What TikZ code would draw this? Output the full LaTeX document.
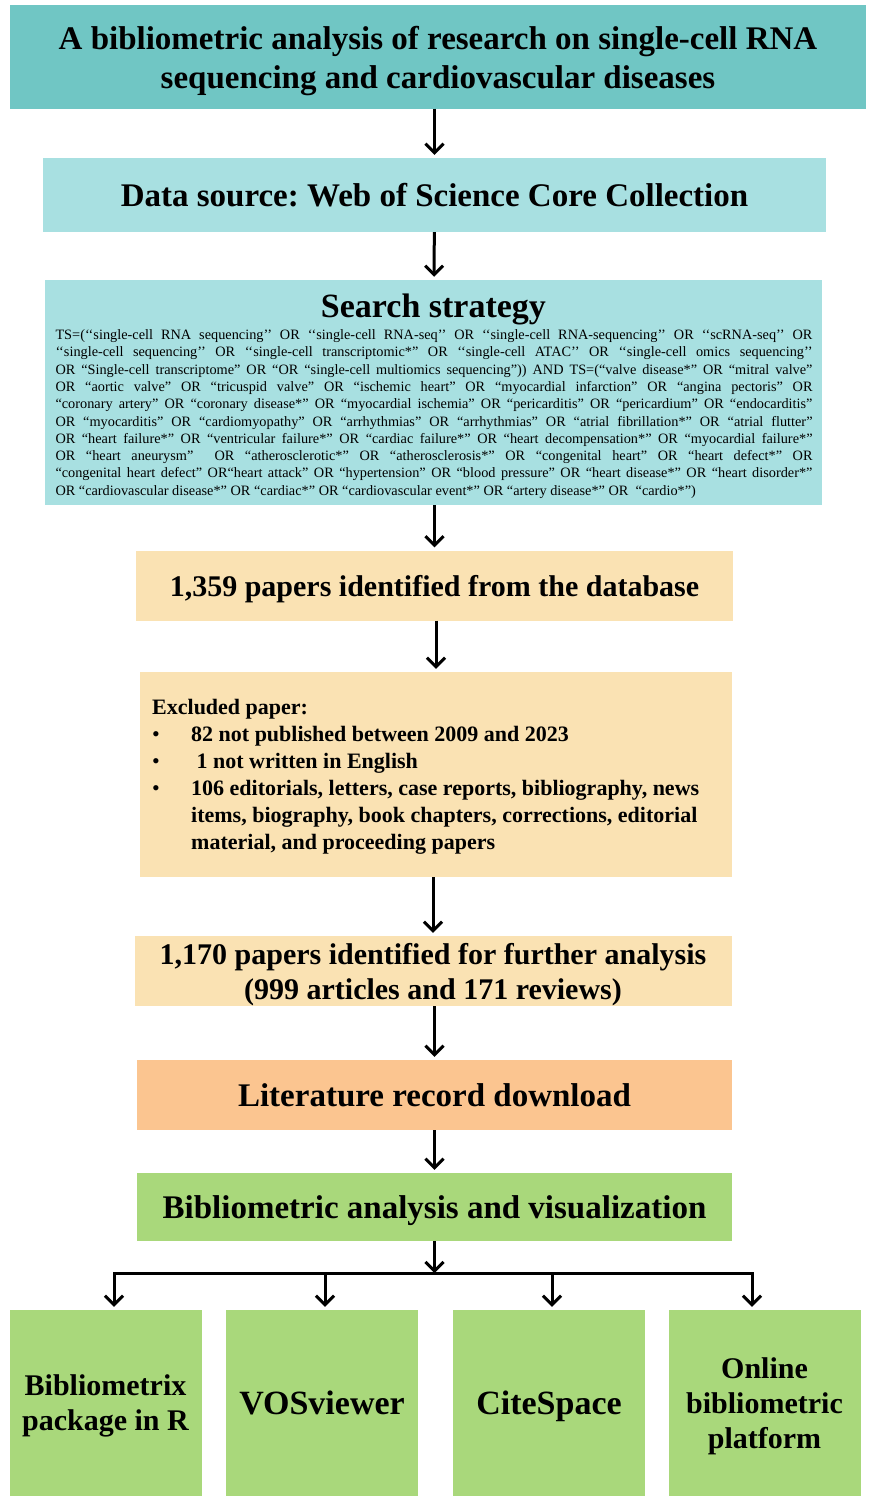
\documentclass[tikz,border=0pt]{standalone}
\usepackage{fontspec}
\setmainfont{Liberation Serif}
\newfontfamily\qryfont{Liberation Serif}
\definecolor{cTeal}{HTML}{70C6C4}
\definecolor{cCyan}{HTML}{A8E0E1}
\definecolor{cPeach}{HTML}{FAE2B3}
\definecolor{cOrange}{HTML}{FBC590}
\definecolor{cGreen}{HTML}{A9D87B}
\usetikzlibrary{arrows.meta}

\newcommand{\bfsize}[2]{\bfseries\fontsize{#1}{#2}\selectfont}
\newcommand{\bul}{\makebox[39pt][l]{\mdseries\textbullet}}
\frenchspacing

\begin{document}
\begin{tikzpicture}[x=1pt, y=-1pt,
  bx/.style={inner sep=0pt, align=center, text depth=0pt, font=\bfsize{33}{39}},
  hd/.style={bx, fill=cTeal, minimum width=856pt, minimum height=103pt},
  src/.style={bx, fill=cCyan, minimum width=783pt, minimum height=74pt},
  srch/.style={bx, fill=cCyan, minimum width=777pt, minimum height=225pt},
  pap/.style={bx, fill=cPeach, minimum width=597pt, minimum height=70pt,
              font=\bfsize{30}{35}},
  excl/.style={bx, fill=cPeach, minimum width=592pt, minimum height=205pt},
  exclT/.style={inner sep=0pt, anchor=west, align=left, font=\bfsize{22}{27}},
  dl/.style={bx, fill=cOrange, minimum width=595pt, minimum height=70pt},
  ana/.style={bx, fill=cGreen, minimum width=595pt, minimum height=68pt},
  tool/.style={bx, fill=cGreen, minimum width=192pt, minimum height=186pt,
               font=\bfsize{30}{35}},
  qry/.style={inner sep=0pt, text width=757pt, align=justify,
              font=\qryfont\fontsize{14.3}{17.3}\selectfont},
  arr/.style={-{Straight Barb[length=9pt,width=18pt]}, line width=3pt,
              shorten >=3pt}]
  \useasboundingbox (0,0) rectangle (874,1496);

  \node[hd] (head) at (438,57)
     {A bibliometric analysis of research on single-cell RNA\\
      sequencing and cardiovascular diseases};
  \node[src] (dsrc) at (434.5,195) {Data source: Web of Science Core Collection};
  \node[srch] (srch) at (433.5,392.5) {};
  \node[font=\bfsize{34}{38}, text depth=0pt] (srchT) at (433.5,306) {Search strategy};
  \node[qry] (qryT) at (434,414) {%
TS=(‘‘single-cell RNA sequencing’’ OR ‘‘single-cell RNA-seq’’ OR ‘‘single-cell RNA-sequencing’’ OR ‘‘scRNA-seq’’ OR\linebreak
‘‘single-cell sequencing’’ OR ‘‘single-cell transcriptomic*” OR ‘‘single-cell ATAC’’ OR ‘‘single-cell omics sequencing’’\linebreak
OR “Single-cell transcriptome” OR “OR “single-cell multiomics sequencing”)) AND TS=(“valve disease*” OR “mitral valve”\linebreak
OR “aortic valve” OR “tricuspid valve” OR “ischemic heart” OR “myocardial infarction” OR “angina pectoris” OR\linebreak
“coronary artery” OR “coronary disease*” OR “myocardial ischemia” OR “pericarditis” OR “pericardium” OR “endocarditis”\linebreak
OR “myocarditis” OR “cardiomyopathy” OR “arrhythmias” OR “arrhythmias” OR “atrial fibrillation*” OR “atrial flutter”\linebreak
OR “heart failure*” OR “ventricular failure*” OR “cardiac failure*” OR “heart decompensation*” OR “myocardial failure*”\linebreak
OR “heart aneurysm”~ OR “atherosclerotic*” OR “atherosclerosis*” OR “congenital heart” OR “heart defect*” OR\linebreak
“congenital heart defect” OR“heart attack” OR “hypertension” OR “blood pressure” OR “heart disease*” OR “heart disorder*”\linebreak
OR “cardiovascular disease*” OR “cardiac*” OR “cardiovascular event*” OR “artery disease*” OR~ “cardio*”)};
  \node[pap] (found) at (434.5,585.5) {1,359 papers identified from the database};
  \node[excl] (excl) at (436,774.5) {};
  \node[exclT] (exclL) at (152,777)
     {Excluded paper:\\
      \bul 82 not published between 2009 and 2023\\
      \bul\ 1 not written in English\\
      \bul 106 editorials, letters, case reports, bibliography, news\\
      \hspace*{39pt}items, biography, book chapters, corrections, editorial\\
      \hspace*{39pt}material, and proceeding papers};
  \node[pap] (kept) at (433,971)
     {1,170 papers identified for further analysis\\(999 articles and 171 reviews)};
  \node[dl] (dl) at (434.5,1095) {Literature record download};
  \node[ana] (ana) at (434.5,1207) {Bibliometric analysis and visualization};

  \node[tool] (t1) at (105.5,1403) {Bibliometrix\\package in R};
  \node[tool, font=\bfsize{34}{38}] (t2) at (322,1403) {VOSviewer};
  \node[tool, font=\bfsize{34}{38}] (t3) at (549,1403) {CiteSpace};
  \node[tool] (t4) at (764.5,1403) {Online\\bibliometric\\platform};

  % main flow
  \draw[arr] (head.south -| dsrc.north) -- (dsrc.north);
  \draw[arr] (dsrc) -- (srch);
  \draw[arr] (srch.south -| found.north) -- (found.north);
  \draw[arr] (found.south -| excl.north) -- (excl.north);
  \draw[arr] (excl.south -| kept.north) -- (kept.north);
  \draw[arr] (kept.south -| dl.north) -- (dl.north);
  \draw[arr] (dl) -- (ana);

  % branch to tools
  \coordinate (split) at (434.5,1273);
  \coordinate (b1) at (114,1273);
  \coordinate (b2) at (325,1273);
  \coordinate (b3) at (552,1273);
  \coordinate (b4) at (752,1273);
  \draw[arr, shorten >=0pt] (ana) -- (split);
  \draw[line width=3pt, line cap=rect] (b1) -- (b4);
  \draw[arr] (b1) -- (b1 |- t1.north);
  \draw[arr] (b2) -- (b2 |- t2.north);
  \draw[arr] (b3) -- (b3 |- t3.north);
  \draw[arr] (b4) -- (b4 |- t4.north);
\end{tikzpicture}
\end{document}
